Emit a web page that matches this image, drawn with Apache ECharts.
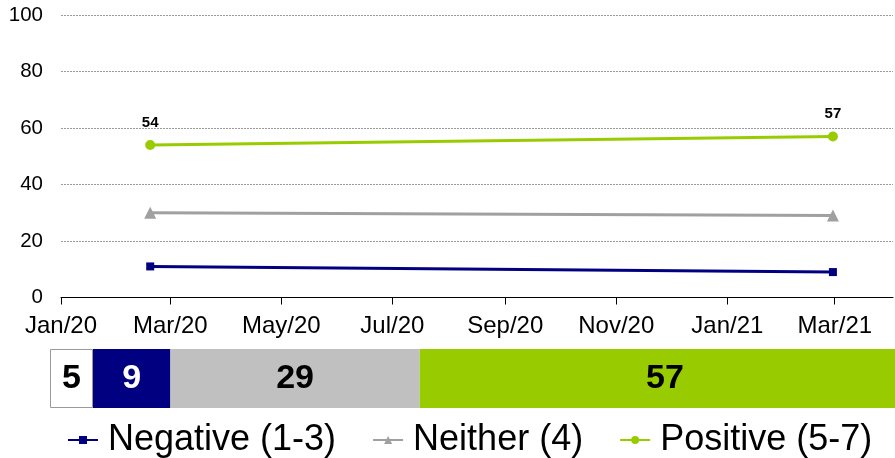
<!DOCTYPE html>
<html>
<head>
<meta charset="utf-8">
<script src="https://cdn.jsdelivr.net/npm/echarts@6/dist/echarts.min.js"></script>
<style>
  html, body { margin: 0; padding: 0; background: #fff; }
  #chart { width: 895px; height: 458px; }
</style>
</head>
<body>
<div id="chart"></div>
<script>
// Survey waves and their results (%)
const surveyDates = ['2020-02-19', '2021-02-28'];
const negative = [11, 9];
const neither = [30, 29];
const positive = [54, 57];

// Latest wave split: don't know, negative, neither, positive
const latestShares = [5, 9, 29, 57];

// Date axis ticks
const tickDates = ['2020-01-01', '2020-03-01', '2020-05-01', '2020-07-01',
                   '2020-09-01', '2020-11-01', '2021-01-01', '2021-03-01'];
const tickLabels = ['Jan/20', 'Mar/20', 'May/20', 'Jul/20', 'Sep/20', 'Nov/20', 'Jan/21', 'Mar/21'];
const axisStart = '2020-01-01';
const axisEnd = '2021-04-02';

// Dates are plotted as whole days since the axis start
const DAY = 86400000;
function toDay(s) {
  const p = s.split('-');
  return Math.round((Date.UTC(+p[0], +p[1] - 1, +p[2]) - Date.UTC(2020, 0, 1)) / DAY);
}
const tickDays = tickDates.map(toDay);

const NAVY = '#000080';
const GREY = '#a0a0a0';
const GREEN = '#99cc00';
const FONT = '"Liberation Sans", Arial, sans-serif';

function pairs(vals) {
  return vals.map((v, i) => [toDay(surveyDates[i]), v]);
}

const shareColors = ['#ffffff', NAVY, '#c0c0c0', GREEN];
const shareText = ['#000', '#fff', '#000', '#000'];
const shareNames = ['dk', 'neg', 'neither', 'pos'];

const barSeries = latestShares.map((v, i) => ({
  name: shareNames[i],
  type: 'bar',
  xAxisIndex: 1,
  yAxisIndex: 1,
  stack: 'share',
  barWidth: '100%',
  data: [v],
  silent: true,
  itemStyle: {
    color: shareColors[i],
    borderColor: i === 0 ? '#999' : shareColors[i],
    borderWidth: i === 0 ? 1 : 0
  },
  label: {
    show: true,
    position: 'inside',
    formatter: '{c}',
    color: shareText[i],
    fontFamily: FONT,
    fontWeight: 'bold',
    fontSize: 34
  }
}));

const chart = echarts.init(document.getElementById('chart'), null, { renderer: 'canvas' });

chart.setOption({
  animation: false,
  backgroundColor: '#fff',
  textStyle: { fontFamily: FONT },
  grid: [
    { left: 61, right: 2, top: 15, bottom: 160.5, outerBoundsMode: 'none' },
    { left: 50, width: 860, top: 349, height: 59, outerBoundsMode: 'none' }
  ],
  legend: {
    data: ['Negative (1-3)', 'Neither (4)', 'Positive (5-7)'],
    left: 62,
    top: 417,
    itemWidth: 30,
    itemHeight: 10,
    itemGap: 36,
    textStyle: {
      fontFamily: FONT,
      fontSize: 36,
      color: '#000',
      padding: [0, 0, 0, 5]
    }
  },
  xAxis: [
    {
      type: 'value',
      gridIndex: 0,
      min: toDay(axisStart),
      max: toDay(axisEnd),
      splitLine: { show: false },
      axisLine: { lineStyle: { color: '#000', width: 1 } },
      axisTick: {
        customValues: tickDays,
        length: 7,
        lineStyle: { color: '#000' }
      },
      axisLabel: {
        customValues: tickDays,
        formatter: function (val) {
          const idx = tickDays.indexOf(val);
          return idx >= 0 ? tickLabels[idx] : '';
        },
        fontFamily: FONT,
        fontSize: 24,
        color: '#000',
        margin: 17
      }
    },
    {
      type: 'value',
      gridIndex: 1,
      min: 0,
      max: 100,
      show: false
    }
  ],
  yAxis: [
    {
      type: 'value',
      gridIndex: 0,
      min: 0,
      max: 100,
      interval: 20,
      axisLine: { show: false },
      axisTick: { show: false },
      splitLine: {
        show: true,
        lineStyle: { color: '#9a9a9a', type: [2, 1], width: 1 }
      },
      axisLabel: {
        fontFamily: FONT,
        fontSize: 20.5,
        color: '#000',
        margin: 18
      }
    },
    {
      type: 'category',
      gridIndex: 1,
      data: ['latest'],
      show: false
    }
  ],
  series: [
    {
      name: 'Negative (1-3)',
      type: 'line',
      data: pairs(negative),
      symbol: 'rect',
      symbolSize: 8,
      color: NAVY,
      lineStyle: { width: 3, color: NAVY },
      itemStyle: { color: NAVY }
    },
    {
      name: 'Neither (4)',
      type: 'line',
      data: pairs(neither),
      symbol: 'triangle',
      symbolSize: 12,
      color: GREY,
      lineStyle: { width: 3, color: GREY },
      itemStyle: { color: GREY }
    },
    {
      name: 'Positive (5-7)',
      type: 'line',
      data: pairs(positive),
      symbol: 'circle',
      symbolSize: 10,
      color: GREEN,
      lineStyle: { width: 3, color: GREEN },
      itemStyle: { color: GREEN },
      label: {
        show: true,
        position: 'top',
        distance: 10,
        formatter: function (p) { return p.value[1]; },
        fontFamily: FONT,
        fontWeight: 'bold',
        fontSize: 15,
        color: '#000'
      }
    }
  ].concat(barSeries)
});
</script>
</body>
</html>
